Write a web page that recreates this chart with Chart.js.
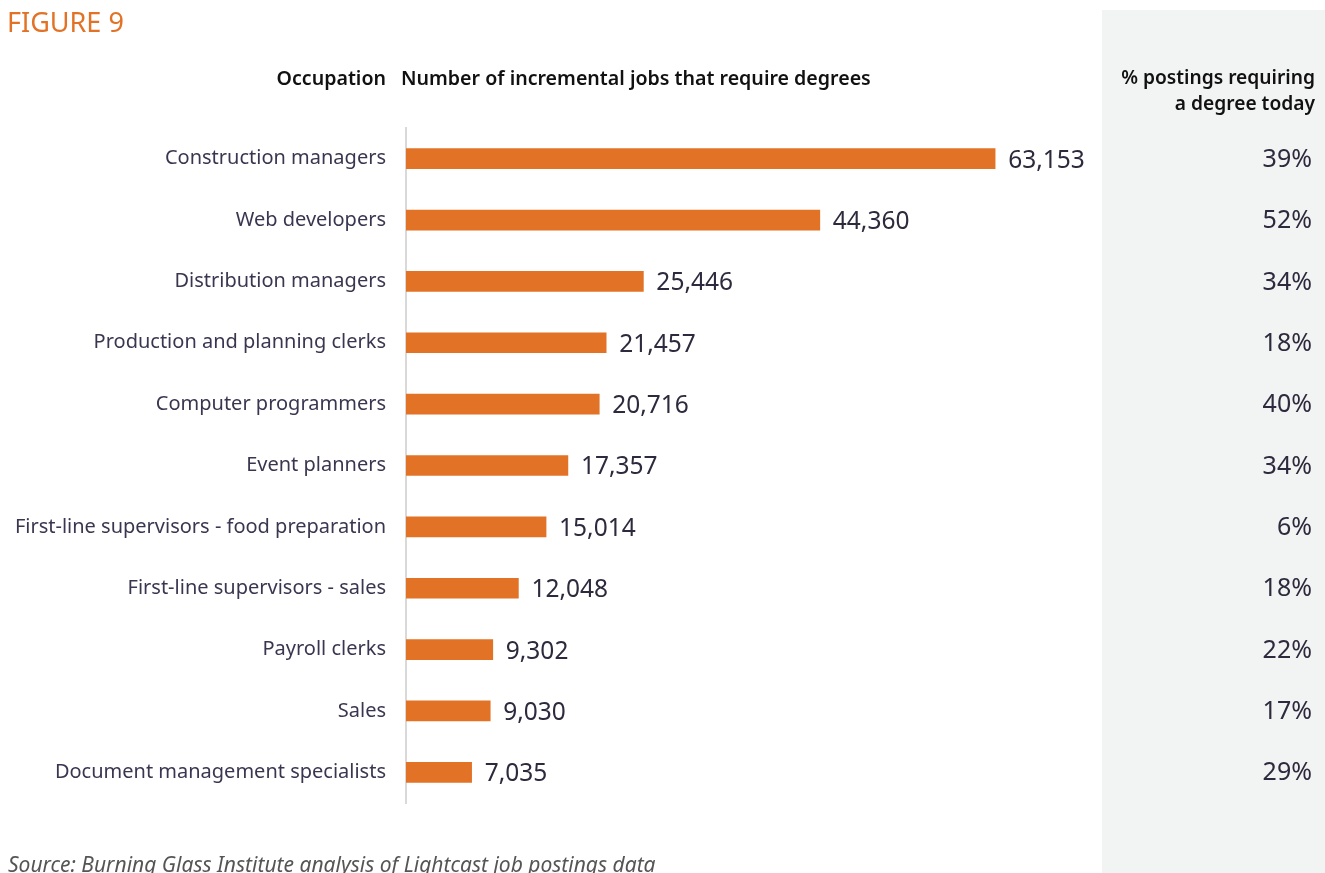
<!DOCTYPE html>
<html>
<head>
<meta charset="utf-8">
<script src="https://cdn.jsdelivr.net/npm/chart.js@4/dist/chart.umd.min.js"></script>
<style>
  html, body { margin: 0; padding: 0; background: #ffffff; }
  #wrap { position: relative; width: 1325px; height: 873px; }
</style>
</head>
<body>
<div id="wrap"><canvas id="jobsChart" width="1325" height="873"></canvas></div>
<script>
const occupations = [
    'Construction managers',
    'Web developers',
    'Distribution managers',
    'Production and planning clerks',
    'Computer programmers',
    'Event planners',
    'First-line supervisors - food preparation',
    'First-line supervisors - sales',
    'Payroll clerks',
    'Sales',
    'Document management specialists'
];
const incrementalJobs = [63153, 44360, 25446, 21457, 20716, 17357, 15014, 12048, 9302, 9030, 7035];
const degreeShare = [39, 52, 34, 18, 40, 34, 6, 18, 22, 17, 29];

const FONT = '"Noto Sans", "Open Sans", sans-serif';
const ORANGE = '#e27326';
const INK = '#2e2a3d';

// Headers, side panel and per-row value text
const decorations = {
    id: 'decorations',
    beforeDraw(chart) {
        const ctx = chart.ctx;
        ctx.save();
        ctx.fillStyle = '#f2f3f3';
        ctx.fillRect(1102, 10, 223, 863);
        ctx.restore();
    },
    afterDraw(chart) {
        const ctx = chart.ctx;
        const x = chart.scales.x;
        const y = chart.scales.y;
        ctx.save();
        ctx.textBaseline = 'middle';

        ctx.fillStyle = ORANGE;
        ctx.font = '27px ' + FONT;
        ctx.textAlign = 'left';
        ctx.fillText('FIGURE 9', 7, 24);

        ctx.fillStyle = '#111111';
        ctx.font = '600 19.6px ' + FONT;
        ctx.textAlign = 'right';
        ctx.fillText('Occupation', 386, 79);
        ctx.textAlign = 'left';
        ctx.fillText('Number of incremental jobs that require degrees', 401, 79);
        ctx.textAlign = 'right';
        ctx.font = '600 19.2px ' + FONT;
        ctx.fillText('% postings requiring', 1315, 79);
        ctx.fillText('a degree today', 1315, 105);

        ctx.fillStyle = INK;
        incrementalJobs.forEach((v, i) => {
            const py = y.getPixelForValue(i);
            ctx.font = '24.5px ' + FONT;
            ctx.textAlign = 'left';
            ctx.fillText(v.toLocaleString('en-US'), x.getPixelForValue(v) + 13, py + 2);
            ctx.font = '25px ' + FONT;
            ctx.textAlign = 'right';
            ctx.fillText(degreeShare[i] + '%', 1312, py + 1);
        });

        ctx.fillStyle = '#555555';
        ctx.font = 'italic 21px ' + FONT;
        ctx.textAlign = 'left';
        ctx.fillText('Source: Burning Glass Institute analysis of Lightcast job postings data', 8, 866);
        ctx.restore();
    }
};

new Chart(document.getElementById('jobsChart'), {
    type: 'bar',
    data: {
        labels: occupations,
        datasets: [{
            data: incrementalJobs,
            backgroundColor: ORANGE,
            barThickness: 20,
            borderWidth: 0
        }]
    },
    options: {
        indexAxis: 'y',
        responsive: false,
        animation: false,
        layout: { padding: { top: 128, bottom: 70, left: 0, right: 266 } },
        plugins: { legend: { display: false }, tooltip: { enabled: false } },
        scales: {
            x: { display: false, min: 0, max: 70000 },
            y: {
                afterFit(scale) { scale.width = 406; },
                grid: { display: false, drawTicks: false },
                border: { display: true, color: '#d9d9d9', width: 2 },
                ticks: {
                    padding: 20,
                    color: '#3b3650',
                    font: { family: FONT, size: 20 }
                }
            }
        }
    },
    plugins: [decorations]
});
</script>
</body>
</html>
